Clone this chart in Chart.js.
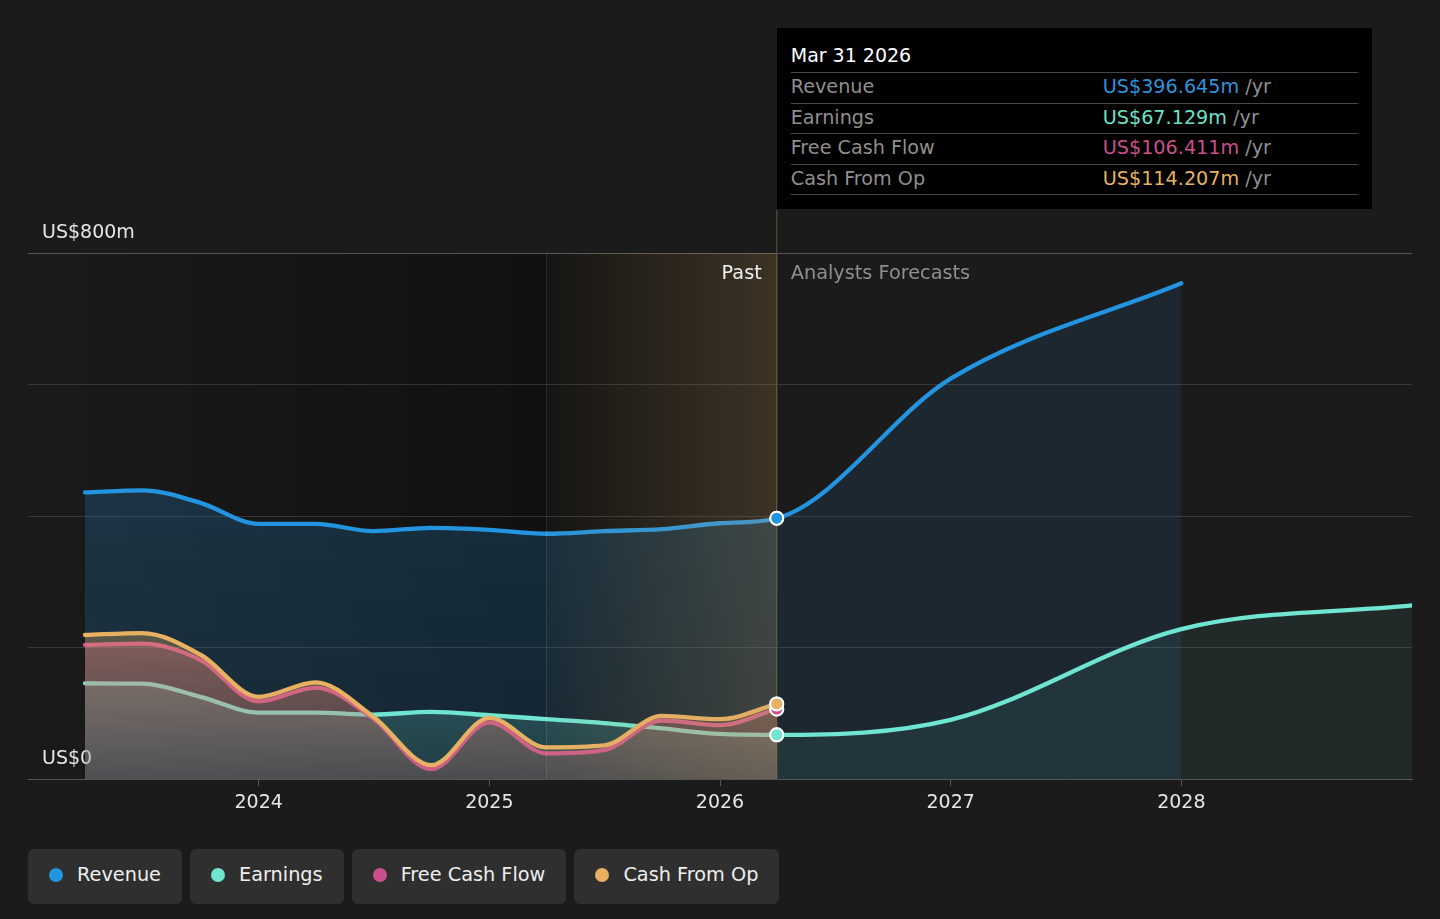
<!DOCTYPE html>
<html>
<head>
<meta charset="utf-8">
<script src="https://cdn.jsdelivr.net/npm/chart.js@4.4.1/dist/chart.umd.min.js"></script>
<style>
  html, body { margin: 0; padding: 0; background: #1b1b1b; font-family: "DejaVu Sans", sans-serif; }
  #wrap { position: relative; width: 1440px; height: 919px; overflow: hidden; }
  #chart { position: absolute; left: 0; top: 0; }
  #tip { position: absolute; top: 28px; width: 567px; background: #000; padding: 0 14px 14px 14px; color: #8f8f8f; }
  #tip .title { color: #fff; font-size: 19px; line-height: 30px; padding-top: 12px; height: 32px; }
  #tip .row { display: flex; height: 29.5px; line-height: 28px; border-top: 1px solid #474747; font-size: 19.2px; }
  #tip .row:last-child { border-bottom: 1px solid #474747; }
  #tip .lbl { width: 312px; }
  #tip .unit { color: #8f8f8f; }
  #legend { position: absolute; left: 28px; top: 849px; display: flex; gap: 8px; }
  .pill { height: 55px; box-sizing: border-box; padding: 0 21px 4px 21px; background: #2f2f2f; border-radius: 6px; display: flex; align-items: center; color: #eee; font-size: 19.3px; }
  .pill .dot { width: 14px; height: 14px; border-radius: 50%; margin-right: 14px; }
</style>
</head>
<body>
<div id="wrap">
  <canvas id="chart" width="1440" height="830"></canvas>
  <div id="tip"></div>
  <div id="legend"></div>
</div>
<script>
// quarter-end dates as decimal years
const pastDates = [2023.247, 2023.496, 2023.748, 2024.0, 2024.247, 2024.496, 2024.748, 2025.0, 2025.247, 2025.496, 2025.748, 2026.0, 2026.246];
const forecastDates = [2027.0, 2028.0, 2029.0];

const revenuePast = [436, 439, 420, 388, 388, 377, 382, 379, 373, 377, 380, 389, 396.645];
const revenueForecast = [609, 754];
const earningsPast = [145.5, 145, 125, 101, 101, 98, 102, 97, 91, 85, 77, 68.5, 67.129];
const earningsForecast = [90, 228, 264];
const fcfPast = [204, 206, 181, 118, 139, 92, 15, 86, 39, 44, 89, 82, 106.411];
const cfoPast = [219, 222, 189, 125, 147, 95, 21, 93, 48, 51, 96, 91, 114.207];

const yearTicks = [2024, 2025, 2026, 2027, 2028];
const seriesNames = ["Revenue", "Earnings", "Free Cash Flow", "Cash From Op"];
const seriesColors = ["#2394df", "#6fe5d2", "#c9508b", "#e8b062"];
const tipValues = ["US$396.645m", "US$67.129m", "US$106.411m", "US$114.207m"];
const tipTextColors = ["#2e93dc", "#6de0c9", "#c9508b", "#e5b262"];

const bandStart = 2025.247;
const dividerX = 2026.246;

function pts(xs, ys) {
  return ys.map((y, i) => ({ x: xs[i], y }));
}

function hexRgb(hex) {
  const n = parseInt(hex.slice(1), 16);
  return [(n >> 16) & 255, (n >> 8) & 255, n & 255];
}

function pastFill(hex, aTop, aBot, fromValue) {
  const [r, g, b] = hexRgb(hex);
  return (ctx) => {
    const chart = ctx.chart;
    const area = chart.chartArea;
    if (!area) return `rgba(${r},${g},${b},${aTop})`;
    const top = fromValue == null ? area.top : chart.scales.y.getPixelForValue(fromValue);
    const grad = chart.ctx.createLinearGradient(0, top, 0, area.bottom);
    grad.addColorStop(0, `rgba(${r},${g},${b},${aTop})`);
    grad.addColorStop(1, `rgba(${r},${g},${b},${aBot})`);
    return grad;
  };
}

function forecastSegment(color) {
  return { backgroundColor: (ctx) => (ctx.p0.parsed.x >= dividerX - 1e-6 ? color : undefined) };
}

const markerRadius = (ctx) => (ctx.raw && ctx.raw.x === dividerX ? 6.5 : 0);

function lineSet(label, color, data, bg, order, segment) {
  return {
    label, data, order,
    borderColor: color,
    backgroundColor: bg,
    borderWidth: 4.3,
    borderCapStyle: "round",
    fill: "origin",
    cubicInterpolationMode: "monotone",
    pointRadius: markerRadius,
    pointHoverRadius: markerRadius,
    pointBackgroundColor: color,
    pointBorderColor: "#fff",
    pointBorderWidth: 2,
    segment,
  };
}

const backdrop = {
  id: "backdrop",
  beforeDraw(chart) {
    const { ctx, chartArea: a, scales: { x } } = chart;
    const bx = x.getPixelForValue(bandStart);
    const dx = x.getPixelForValue(dividerX);
    ctx.save();
    const g = ctx.createLinearGradient(a.left, 0, bx, 0);
    g.addColorStop(0, "rgba(0,0,0,0)");
    g.addColorStop(1, "rgba(0,0,0,0.36)");
    ctx.fillStyle = g;
    ctx.fillRect(a.left, a.top, bx - a.left, a.bottom - a.top);
    ctx.fillStyle = "rgba(0,0,0,0.36)";
    ctx.fillRect(bx, a.top, dx - bx, a.bottom - a.top);
    ctx.restore();
  },
  beforeDatasetsDraw(chart) {
    const { ctx, chartArea: a, scales: { x } } = chart;
    const dx = x.getPixelForValue(dividerX);
    ctx.save();
    ctx.strokeStyle = "#4e4430";
    ctx.lineWidth = 1.5;
    ctx.beginPath();
    ctx.moveTo(dx, 210);
    ctx.lineTo(dx, a.bottom);
    ctx.stroke();
    ctx.restore();
  },
  afterDatasetsDraw(chart) {
    const { ctx, chartArea: a, scales: { x } } = chart;
    const bx = x.getPixelForValue(bandStart);
    const dx = x.getPixelForValue(dividerX);
    ctx.save();
    const g = ctx.createLinearGradient(bx, 0, dx, 0);
    g.addColorStop(0, "rgba(200,160,100,0.03)");
    g.addColorStop(1, "rgba(200,160,100,0.24)");
    ctx.fillStyle = g;
    ctx.fillRect(bx, a.top, dx - bx, a.bottom - a.top);
    ctx.strokeStyle = "rgba(255,255,255,0.1)";
    ctx.lineWidth = 1;
    ctx.beginPath();
    ctx.moveTo(Math.round(bx) + 0.5, a.top);
    ctx.lineTo(Math.round(bx) + 0.5, a.bottom);
    ctx.stroke();

    // markers back on top of the band tint
    const metas = chart.getSortedVisibleDatasetMetas();
    for (let i = metas.length - 1; i >= 0; i--) {
      metas[i].data.forEach((p) => p.draw(ctx, a));
    }

    ctx.font = '19.3px "DejaVu Sans"';
    ctx.textBaseline = "middle";
    ctx.textAlign = "right";
    ctx.fillStyle = "#f0f0f0";
    ctx.fillText("Past", dx - 15, 274);
    ctx.textAlign = "left";
    ctx.fillStyle = "#8f8f8f";
    ctx.fillText("Analysts Forecasts", dx + 14, 274);
    ctx.restore();
  },
};

const datasets = [
  lineSet("Cash From Op", seriesColors[3], pts(pastDates, cfoPast), pastFill(seriesColors[3], 0.34, 0.12, 250), 1),
  lineSet("Free Cash Flow", seriesColors[2], pts(pastDates, fcfPast), pastFill(seriesColors[2], 0.34, 0.12, 250), 2),
  lineSet("Earnings", seriesColors[1],
    pts(pastDates, earningsPast).concat(pts(forecastDates, earningsForecast)),
    pastFill(seriesColors[1], 0.3, 0.12, 250), 3, forecastSegment("rgba(110,230,208,0.08)")),
  lineSet("Revenue", seriesColors[0],
    pts(pastDates, revenuePast).concat(pts(forecastDates, revenueForecast)),
    pastFill(seriesColors[0], 0.27, 0.15), 4, forecastSegment("rgba(35,148,223,0.1)")),
];

const chart = new Chart(document.getElementById("chart"), {
  type: "line",
  data: { datasets },
  plugins: [backdrop],
  options: {
    responsive: false,
    animation: false,
    events: [],
    layout: { padding: { left: 28, right: 28, top: 253, bottom: 0 } },
    plugins: {
      legend: { display: false },
      tooltip: { enabled: false },
      filler: { drawTime: "beforeDatasetDraw" },
    },
    scales: {
      x: {
        type: "linear",
        min: 2023,
        max: 2029,
        afterBuildTicks: (s) => { s.ticks = yearTicks.map((v) => ({ value: v })); },
        afterFit: (s) => { s.height = 51; },
        grid: { drawOnChartArea: false, color: "transparent", tickColor: "#555", tickLength: 7 },
        border: { display: true, color: "#555", width: 1 },
        ticks: { color: "#e6e6e6", font: { family: "DejaVu Sans", size: 19 }, padding: 6, maxRotation: 0, callback: (v) => String(v) },
      },
      y: {
        min: 0,
        max: 800,
        afterFit: (s) => { s.width = 0; },
        border: { display: false },
        grid: {
          drawTicks: false,
          color: (c) => (c.tick.value === 0 ? "transparent" : c.tick.value === 800 ? "#555" : "rgba(255,255,255,0.13)"),
        },
        ticks: {
          stepSize: 200,
          mirror: true,
          padding: 14,
          labelOffset: -20,
          color: "#e6e6e6",
          font: { family: "DejaVu Sans", size: 19 },
          callback: (v) => (v === 800 ? "US$800m" : v === 0 ? "US$0" : ""),
        },
      },
    },
  },
});

// hover box pinned at the last reported quarter
const tip = document.getElementById("tip");
tip.style.left = chart.scales.x.getPixelForValue(dividerX) + "px";
let html = '<div class="title">Mar 31 2026</div>';
seriesNames.forEach((name, i) => {
  html += `<div class="row"><span class="lbl">${name}</span><span><span style="color:${tipTextColors[i]}">${tipValues[i]}</span><span class="unit"> /yr</span></span></div>`;
});
tip.innerHTML = html;

const legend = document.getElementById("legend");
seriesNames.forEach((name, i) => {
  const pill = document.createElement("div");
  pill.className = "pill";
  pill.innerHTML = `<span class="dot" style="background:${seriesColors[i]}"></span>${name}`;
  legend.appendChild(pill);
});
</script>
</body>
</html>
